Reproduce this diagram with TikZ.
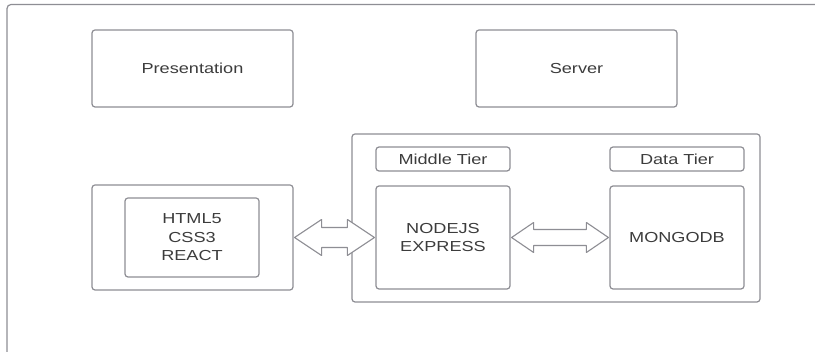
\documentclass[tikz,border=0pt]{standalone}
\usepackage{fontspec}
\setmainfont{Liberation Sans}[FakeStretch=1.25]
\usetikzlibrary{calc}
\definecolor{linec}{HTML}{8E8E94}
\definecolor{textc}{HTML}{3C3C3C}
\tikzset{
  box/.style={draw=linec, line width=1.2pt, rounded corners=3pt, rectangle, inner sep=0pt,
    text=textc, align=center, font=\fontsize{14.5}{18.5}\selectfont},
  frame/.style={draw=linec, line width=1.2pt, rounded corners=4pt},
  barrow/.style={draw=linec, line width=1.1pt, fill=white, line join=round}
}
\newcommand\blockarrow[5]{%
  \draw[barrow] (#1) -- ($(#1)+(#3,#4)$) -- ($(#1)+(#3,#5)$) -- ($(#2)+(-#3,#5)$)
    -- ($(#2)+(-#3,#4)$) -- (#2) -- ($(#2)+(-#3,-#4)$) -- ($(#2)+(-#3,-#5)$)
    -- ($(#1)+(#3,-#5)$) -- ($(#1)+(#3,-#4)$) -- cycle;}
\begin{document}
\begin{tikzpicture}[x=1pt,y=-1pt]
\useasboundingbox (0,0) rectangle (815,352);
\clip (0,0) rectangle (815,352);
\fill[white] (0,0) rectangle (815,352);
\draw[frame] (7,4.5) rectangle (840,380);
\node[box, minimum width=201pt, minimum height=77pt] (pres) at (192.5,68.5) {Presentation};
\node[box, minimum width=201pt, minimum height=77pt] (server) at (576.5,68.5) {Server};
\node[box, minimum width=201pt, minimum height=105pt] (client) at (192.5,237.5) {};
\node[box, minimum width=134pt, minimum height=79pt] (html) at (192,237.5) {HTML5\\CSS3\\REACT};
\node[box, minimum width=408pt, minimum height=168pt] (srv) at (556,218) {};
\node[box, minimum width=134pt, minimum height=24pt] (mid) at (443,159) {Middle Tier};
\node[box, minimum width=134pt, minimum height=24pt] (data) at (677,159) {Data Tier};
\node[box, minimum width=134pt, minimum height=103pt] (node) at (443,237.5) {NODEJS\\EXPRESS};
\node[box, minimum width=134pt, minimum height=103pt] (mongo) at (677,237.5) {MONGODB};
\coordinate (a1) at ($(client.east)+(1,0)$);
\coordinate (a2) at ($(node.west)+(-1,0)$);
\coordinate (b1) at ($(node.east)+(1,0)$);
\coordinate (b2) at ($(mongo.west)+(-1,0)$);
\blockarrow{a1}{a2}{27}{18}{10}
\blockarrow{b1}{b2}{22}{15}{8}
\end{tikzpicture}
\end{document}
